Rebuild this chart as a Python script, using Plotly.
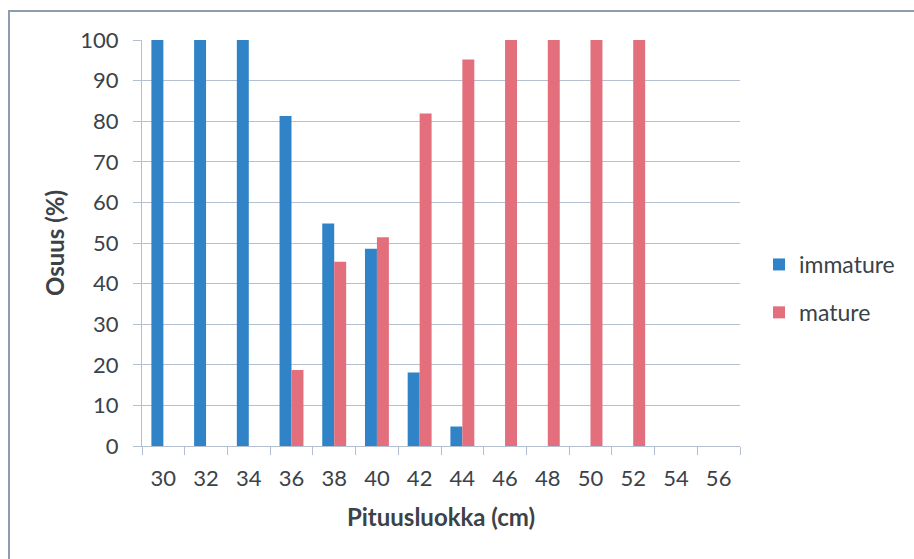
import plotly.graph_objects as go

# Length classes (cm) and share of immature / mature fish (%)
length_classes = ["30", "32", "34", "36", "38", "40", "42", "44", "46", "48", "50", "52", "54", "56"]
immature = [100, 100, 100, 81.3, 54.8, 48.6, 18.1, 4.8, 0, 0, 0, 0, 0, 0]
mature = [0, 0, 0, 18.7, 45.4, 51.4, 81.9, 95.2, 100, 100, 100, 100, 0, 0]
y_ticks = [0, 10, 20, 30, 40, 50, 60, 70, 80, 90, 100]

BLUE = "#2f83c6"
PINK = "#e26f7b"
GRID = "#b4bfd0"
TEXT = "#3b4248"

W, H = 914, 559
L, R, T, B = 142, 174, 40, 113

fig = go.Figure()
fig.add_trace(go.Bar(x=length_classes, y=immature, name="immature",
                     marker=dict(color=BLUE, line=dict(width=0)), legendgroup="a"))
fig.add_trace(go.Bar(x=length_classes, y=mature, name="mature",
                     marker=dict(color=PINK, line=dict(width=0)), legendgroup="b"))

def px_x(px):
    return (px - L) / (W - L - R)

def px_y(py):
    return (H - B - py) / (H - T - B)

# outer chart frame
fig.add_shape(type="rect", xref="paper", yref="paper",
              x0=px_x(9), x1=px_x(930), y0=px_y(575), y1=px_y(11),
              line=dict(color="#8d9cb0", width=2), fillcolor="rgba(0,0,0,0)", layer="below")

fig.update_layout(
    width=W, height=H,
    margin=dict(l=L, r=R, t=T, b=B, autoexpand=False),
    paper_bgcolor="white", plot_bgcolor="white",
    barmode="group", bargap=0.44, bargroupgap=0,
    font=dict(family="Lato", color=TEXT, size=22),
    showlegend=True,
    legend=dict(x=px_x(759), y=px_y(243), xanchor="left", yanchor="top",
                font=dict(size=23, color=TEXT), traceorder="grouped",
                tracegroupgap=15, itemwidth=30, bgcolor="rgba(0,0,0,0)"),
    xaxis=dict(
        type="category", categoryorder="array", categoryarray=length_classes,
        showline=True, linecolor=GRID, linewidth=1,
        ticks="outside", tickson="boundaries", ticklen=8, tickcolor=GRID,
        ticklabelstandoff=13,
        tickfont=dict(size=22, color=TEXT),
        title=dict(text="<b>Pituusluokka (cm)</b>", font=dict(size=24, color=TEXT), standoff=18),
        showgrid=False,
    ),
    yaxis=dict(
        range=[0, 100], tickvals=y_ticks,
        showline=True, linecolor=GRID, linewidth=1,
        ticks="outside", ticklen=8, tickcolor=GRID,
        ticklabelstandoff=10,
        showgrid=True, gridcolor=GRID, gridwidth=1,
        zeroline=False,
        tickfont=dict(size=22, color=TEXT),
        title=dict(text="<b>Osuus (%)</b>", font=dict(size=24, color=TEXT), standoff=8),
    ),
)

fig.write_html("out.html")
